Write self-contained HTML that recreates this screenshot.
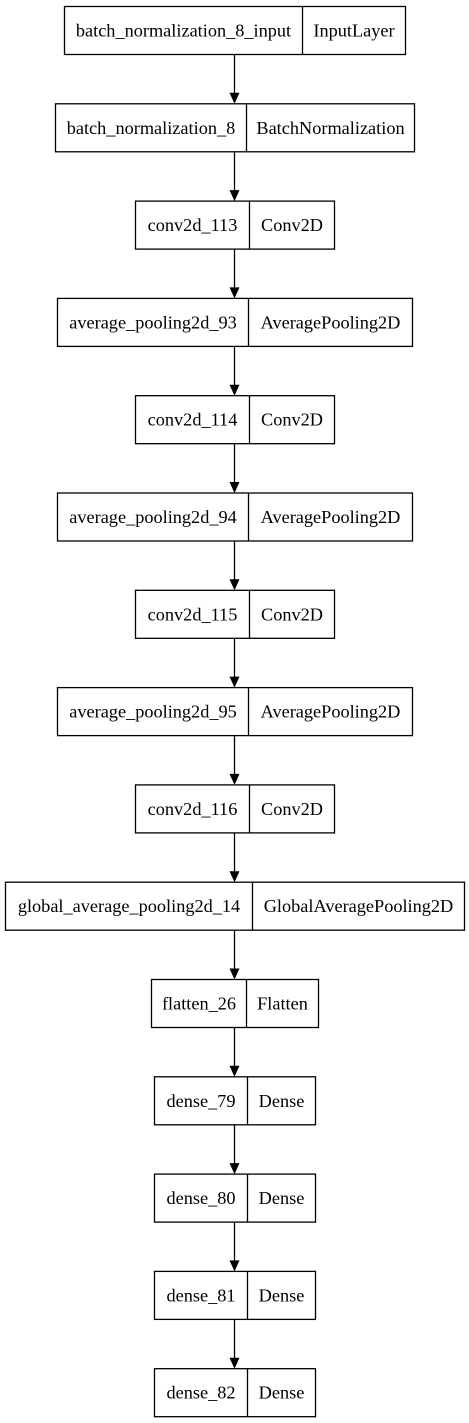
<!DOCTYPE html>
<html><head><meta charset="utf-8"><style>
html,body{margin:0;padding:0;background:#fff;width:469px;height:1423px;overflow:hidden}
svg text{font-family:"Liberation Serif",serif;font-size:18.3px;fill:#000}
</style></head><body>
<svg id="g" width="469" height="1423" xmlns="http://www.w3.org/2000/svg"></svg>
<script>
const names=["batch_normalization_8_input","batch_normalization_8","conv2d_113","average_pooling2d_93","conv2d_114","average_pooling2d_94","conv2d_115","average_pooling2d_95","conv2d_116","global_average_pooling2d_14","flatten_26","dense_79","dense_80","dense_81","dense_82"];
const types=["InputLayer","BatchNormalization","Conv2D","AveragePooling2D","Conv2D","AveragePooling2D","Conv2D","AveragePooling2D","Conv2D","GlobalAveragePooling2D","Flatten","Dense","Dense","Dense","Dense"];
const lefts=[64,55,135,57,135,57,135,57,135,5,151,154,154,154,154];
const rights=[405,414,334,412,334,412,334,412,334,464,318,315,315,315,315];
const divs=[302,246,249,248,249,248,249,248,249,252,246,247,247,247,247];
const svg=document.getElementById('g');
const NS="http://www.w3.org/2000/svg";
function el(t,a){const e=document.createElementNS(NS,t);for(const k in a)e.setAttribute(k,a[k]);svg.appendChild(e);return e;}
const H=48,cx=234.5;
function yAt(i){return 6+97.3*i;}
for(let i=0;i<names.length;i++){
  const y=yAt(i),l=lefts[i],r=rights[i],d=divs[i];
  const b=el('rect',{x:l+0.5,y:y+0.5,width:r-l,height:H,fill:'#fff',stroke:'#000','stroke-width':1.3});
  
  
  const dv=el('line',{x1:d+0.5,y1:y+0.5,x2:d+0.5,y2:y+H+0.5,stroke:'#000','stroke-width':1.3});
  
  
  const t1=el('text',{x:(l+d)/2+0.5,y:y+H/2+6.5,'text-anchor':'middle'});t1.textContent=names[i];
  
  
  const t2=el('text',{x:(d+r)/2+0.5,y:y+H/2+6.5,'text-anchor':'middle'});t2.textContent=types[i];
  
  
  if(i<names.length-1){
    const y0=y+H+0.5,y1=yAt(i+1)+0.5;
    const ln=el('line',{x1:cx,y1:y0,x2:cx,y2:y1-10,stroke:'#000','stroke-width':1.3});
    
    
    const ah=el('polygon',{points:`${cx-5},${y1-11} ${cx+5},${y1-11} ${cx},${y1}`,fill:'#000'});
    
    
  }
}
</script>
</body></html>
